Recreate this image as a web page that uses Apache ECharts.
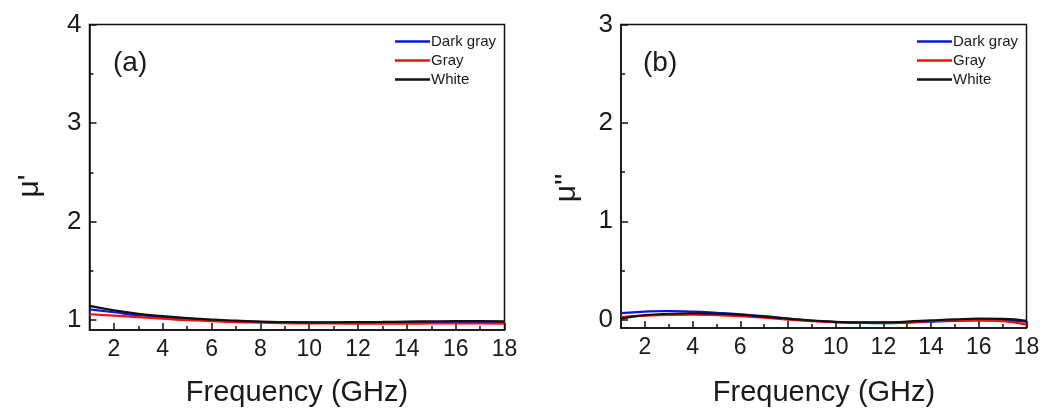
<!DOCTYPE html>
<html>
<head>
<meta charset="utf-8">
<script src="https://cdn.jsdelivr.net/npm/echarts@6/dist/echarts.min.js"></script>
<style>
  html, body { margin: 0; padding: 0; background: #fff; }
  #chart { width: 1050px; height: 414px; }
</style>
</head>
<body>
<div id="chart"></div>
<script>
// Frequency sweep (GHz)
const freq = [1, 2, 3, 4, 5, 6, 7, 8, 9, 10, 11, 12, 13, 14, 15, 16, 17, 18];
const xTicks = [2, 4, 6, 8, 10, 12, 14, 16, 18];
const xMinorTicks = [3, 5, 7, 9, 11, 13, 15, 17];

// Real part of permeability, mu'
const muRealDarkGray = [1.11, 1.08, 1.05, 1.03, 1.015, 1.0, 0.99, 0.982, 0.977, 0.975, 0.975, 0.975, 0.976, 0.977, 0.978, 0.978, 0.978, 0.977];
const muRealGray     = [1.06, 1.045, 1.03, 1.015, 1.0, 0.99, 0.98, 0.975, 0.97, 0.967, 0.966, 0.965, 0.965, 0.965, 0.966, 0.966, 0.966, 0.965];
const muRealWhite    = [1.145, 1.1, 1.065, 1.04, 1.02, 1.005, 0.995, 0.985, 0.98, 0.978, 0.978, 0.98, 0.982, 0.985, 0.988, 0.99, 0.99, 0.988];
const yTicksA = [1, 2, 3, 4];
const yMinorTicksA = [1.5, 2.5, 3.5];

// Imaginary part of permeability, mu''
const muImagDarkGray = [0.067, 0.082, 0.088, 0.082, 0.07, 0.055, 0.035, 0.01, -0.01, -0.025, -0.032, -0.035, -0.03, -0.02, -0.012, -0.008, -0.01, -0.02];
const muImagGray     = [0.027, 0.04, 0.048, 0.05, 0.045, 0.035, 0.02, 0.0, -0.015, -0.025, -0.03, -0.03, -0.025, -0.015, -0.008, -0.005, -0.015, -0.05];
const muImagWhite    = [0.01, 0.045, 0.06, 0.065, 0.06, 0.05, 0.03, 0.01, -0.01, -0.022, -0.028, -0.028, -0.02, -0.008, 0.003, 0.01, 0.008, -0.012];
const yTicksB = [0, 1, 2, 3];
const yMinorTicksB = [0.5, 1.5, 2.5];

const seriesNames = ['Dark gray', 'Gray', 'White'];
const seriesColors = ['#0a14e6', '#f01010', '#111111'];

const FONT = "'Liberation Sans', Arial, sans-serif";
const INK = '#1a1a1a';

const pair = (ys) => freq.map((x, i) => [x, ys[i]]);

const grids = [
  { left: 89.5, top: 24.5, width: 415, height: 305.5, show: true, borderColor: '#111', borderWidth: 1.5, backgroundColor: 'transparent' },
  { left: 621, top: 24.5, width: 405.5, height: 303.5, show: true, borderColor: '#111', borderWidth: 1.5, backgroundColor: 'transparent' }
];

function xMajor(gi) {
  return {
    type: 'value', gridIndex: gi, min: 1, max: 18, position: 'bottom',
    axisLine: { show: true, onZero: false, lineStyle: { color: '#111', width: 1.5 } },
    axisTick: { show: true, inside: true, length: 7, customValues: xTicks, lineStyle: { color: '#111', width: 1.5 } },
    axisLabel: { show: true, customValues: xTicks, margin: 8, fontSize: 23, color: INK, fontFamily: FONT },
    splitLine: { show: false }
  };
}
function xMinor(gi) {
  return {
    type: 'value', gridIndex: gi, min: 1, max: 18, position: 'bottom', offset: 0,
    axisLine: { show: false, onZero: false },
    axisTick: { show: true, inside: true, length: 4, customValues: xMinorTicks, lineStyle: { color: '#111', width: 1.5 } },
    axisLabel: { show: false },
    splitLine: { show: false }
  };
}
function yMajor(gi, min, max, ticks) {
  return {
    type: 'value', gridIndex: gi, min: min, max: max, position: 'left',
    axisLine: { show: true, onZero: false, lineStyle: { color: '#111', width: 1.5 } },
    axisTick: { show: true, inside: true, length: 7, customValues: ticks, lineStyle: { color: '#111', width: 1.5 } },
    axisLabel: { show: true, customValues: ticks, margin: 8, fontSize: 26, color: INK, fontFamily: FONT },
    splitLine: { show: false }
  };
}
function yMinor(gi, min, max, ticks) {
  return {
    type: 'value', gridIndex: gi, min: min, max: max, position: 'left', offset: 0,
    axisLine: { show: false, onZero: false },
    axisTick: { show: true, inside: true, length: 4, customValues: ticks, lineStyle: { color: '#111', width: 1.5 } },
    axisLabel: { show: false },
    splitLine: { show: false }
  };
}

function lineSeries(name, color, ys, xi, yi) {
  return {
    type: 'line', name: name, data: pair(ys), xAxisIndex: xi, yAxisIndex: yi,
    smooth: true, symbol: 'none', lineStyle: { color: color, width: 2.2 }, itemStyle: { color: color },
    animation: false
  };
}

function legendAt(left) {
  return {
    orient: 'vertical', left: left, top: 34, padding: 0, itemGap: 4,
    icon: 'rect', itemWidth: 35, itemHeight: 2.5,
    data: seriesNames,
    textStyle: { fontSize: 15, lineHeight: 14, color: INK, fontFamily: FONT, padding: [0, 0, 0, -4] },
    selectedMode: false
  };
}

const option = {
  backgroundColor: '#ffffff',
  animation: false,
  grid: grids,
  xAxis: [xMajor(0), xMinor(0), xMajor(1), xMinor(1)],
  yAxis: [
    yMajor(0, 0.9, 4, yTicksA), yMinor(0, 0.9, 4, yMinorTicksA),
    yMajor(1, -0.085, 3, yTicksB), yMinor(1, -0.085, 3, yMinorTicksB)
  ],
  legend: [legendAt(395), legendAt(917)],
  series: [
    lineSeries(seriesNames[0], seriesColors[0], muRealDarkGray, 0, 0),
    lineSeries(seriesNames[1], seriesColors[1], muRealGray, 0, 0),
    lineSeries(seriesNames[2], seriesColors[2], muRealWhite, 0, 0),
    lineSeries(seriesNames[0], seriesColors[0], muImagDarkGray, 2, 2),
    lineSeries(seriesNames[1], seriesColors[1], muImagGray, 2, 2),
    lineSeries(seriesNames[2], seriesColors[2], muImagWhite, 2, 2)
  ],
  graphic: [
    { type: 'text', x: 297, y: 393, style: { text: 'Frequency (GHz)', fontSize: 29, fontFamily: FONT, fill: INK, align: 'center', verticalAlign: 'middle' } },
    { type: 'text', x: 824, y: 393, style: { text: 'Frequency (GHz)', fontSize: 29, fontFamily: FONT, fill: INK, align: 'center', verticalAlign: 'middle' } },
    { type: 'text', x: 30, y: 186, rotation: Math.PI / 2, style: { text: "\u03bc'", fontSize: 30, fontFamily: FONT, fill: INK, align: 'center', verticalAlign: 'middle' } },
    { type: 'text', x: 567, y: 188, rotation: Math.PI / 2, style: { text: "\u03bc''", fontSize: 30, fontFamily: FONT, fill: INK, align: 'center', verticalAlign: 'middle' } },
    { type: 'text', x: 113, y: 63, style: { text: '(a)', fontSize: 28, fontFamily: FONT, fill: INK, align: 'left', verticalAlign: 'middle' } },
    { type: 'text', x: 643, y: 63, style: { text: '(b)', fontSize: 28, fontFamily: FONT, fill: INK, align: 'left', verticalAlign: 'middle' } }
  ]
};

const chart = echarts.init(document.getElementById('chart'), null, { renderer: 'canvas' });
chart.setOption(option);
</script>
</body>
</html>
